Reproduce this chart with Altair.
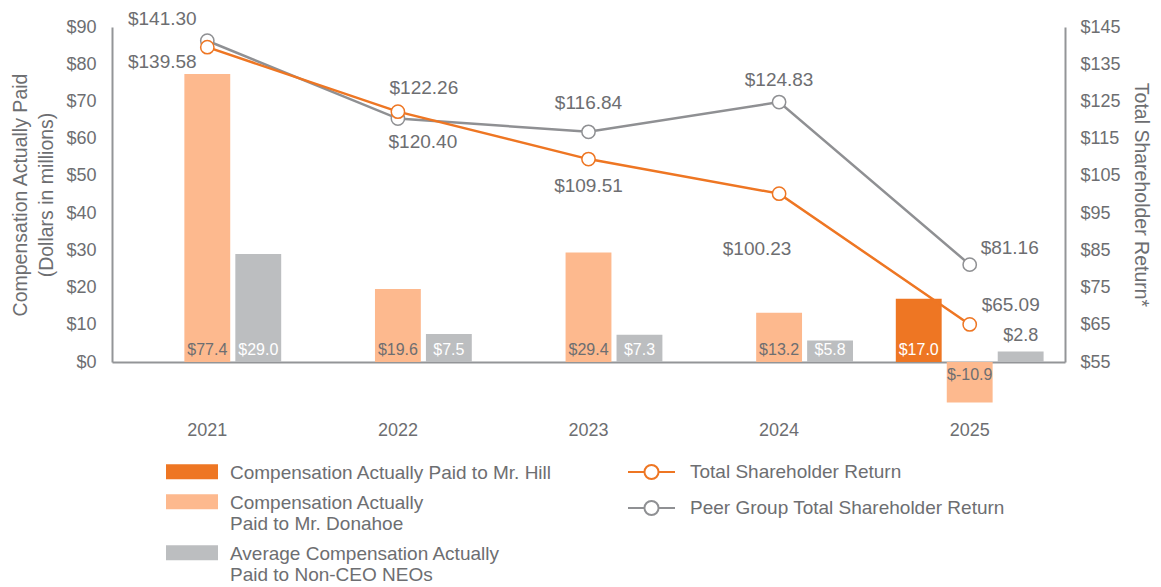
import json
import altair as alt
import pandas as pd

# ---------------- data ----------------
years = ["2021", "2022", "2023", "2024", "2025"]
cap_hill = [None, None, None, None, 17.0]
cap_donahoe = [77.4, 19.6, 29.4, 13.2, -10.9]
cap_neo = [29.0, 7.5, 7.3, 5.8, 2.8]
tsr = [139.58, 122.26, 109.51, 100.23, 65.09]
peer_tsr = [141.30, 120.40, 116.84, 124.83, 81.16]

left_ticks = [0, 10, 20, 30, 40, 50, 60, 70, 80, 90]
right_ticks = [55, 65, 75, 85, 95, 105, 115, 125, 135, 145]

bar_keys = ["Hill", "Donahoe", "NEO"]
bar_legend_text = [
    ["Compensation Actually Paid to Mr. Hill"],
    ["Compensation Actually", "Paid to Mr. Donahoe"],
    ["Average Compensation Actually", "Paid to Non-CEO NEOs"],
]
line_keys = ["TSR", "Peer"]
line_legend_text = ["Total Shareholder Return", "Peer Group Total Shareholder Return"]

# pixel nudges of the value labels relative to their points
tsr_label_offsets = [(-45, 15), (26, -24), (0, 27), (-22, 55), (41, -19)]
peer_label_offsets = [(-45, -22), (25, 23), (0, -29), (0, -22), (40, -17)]

# ---------------- styles ----------------
FONT = "Liberation Sans"
GREY_TEXT = "#6d6e71"
AXIS_GREY = "#939598"
C_HILL = "#ee7623"
C_DONAHOE = "#fdb98e"
C_NEO = "#bcbec0"
C_TSR = "#ee7623"
C_PEER = "#8f9093"

bar_rows = []
for key, vals in zip(bar_keys, [cap_hill, cap_donahoe, cap_neo]):
    for yr, v in zip(years, vals):
        if v is not None:
            bar_rows.append({"year": yr, "series": key, "value": v})
bars_df = pd.DataFrame(bar_rows)

line_rows = []
for key, vals in [("Peer", peer_tsr), ("TSR", tsr)]:
    for yr, v in zip(years, vals):
        line_rows.append({"year": yr, "series": key, "value": v})
lines_df = pd.DataFrame(line_rows)


def expr_map(keys, texts):
    expr = json.dumps(texts[-1])
    for k, t in reversed(list(zip(keys[:-1], texts[:-1]))):
        expr = f"datum.label == {json.dumps(k)} ? {json.dumps(t)} : ({expr})"
    return expr


x_scale = alt.Scale(domain=years, paddingInner=0, paddingOuter=0)
xoff_scale = alt.Scale(domain=bar_keys, paddingInner=0.1, paddingOuter=0.42)
yl_scale = alt.Scale(domain=[0, 90], nice=False, zero=False)
yr_scale = alt.Scale(domain=[55, 145], nice=False, zero=False)

x_axis = alt.Axis(
    title=None, labelAngle=0, ticks=False, domain=True, domainColor=AXIS_GREY,
    domainWidth=2, labelPadding=59, labelFontSize=18, labelColor=GREY_TEXT, grid=False,
)
yl_axis = alt.Axis(
    values=left_ticks, labelExpr="'$' + datum.value", ticks=False, grid=False,
    domainColor=AXIS_GREY, domainWidth=2, labelPadding=16, labelFontSize=18,
    labelColor=GREY_TEXT, labelFlush=False,
    title=["Compensation Actually Paid", "(Dollars in millions)"],
    titleFontSize=19.5, titleFontWeight="normal", titleColor=GREY_TEXT,
    titlePadding=9, titleLineHeight=26,
)
yr_axis = alt.Axis(
    orient="right", values=right_ticks, labelExpr="'$' + datum.value", ticks=False,
    grid=False, domainColor=AXIS_GREY, domainWidth=2, labelPadding=15,
    labelFontSize=18, labelColor=GREY_TEXT, labelFlush=False,
    title="Total Shareholder Return*", titleAngle=90, titleFontSize=19.5,
    titleFontWeight="normal", titleColor=GREY_TEXT, titlePadding=10,
)

bar_legend = alt.Legend(
    orient="none", legendX=54, legendY=427, title=None, direction="vertical",
    symbolType="M-1,0.02H4.2V1.52H-1Z", symbolSize=400, symbolStrokeWidth=0,
    labelExpr=expr_map(bar_keys, bar_legend_text), labelFontSize=19,
    labelColor=GREY_TEXT, labelBaseline="top", labelOffset=44, labelLimit=600,
    rowPadding=1, padding=0,
)
line_legend = alt.Legend(
    orient="none", legendX=515, legendY=420.5, title=None, direction="vertical",
    symbolType="M-1,0H-0.3M0.3,0H1M0.3,0A0.3,0.3,0,1,1,-0.3,0A0.3,0.3,0,1,1,0.3,0",
    symbolSize=2209, symbolStrokeWidth=2, symbolFillColor="white",
    labelExpr=expr_map(line_keys, line_legend_text), labelFontSize=19,
    labelColor=GREY_TEXT, labelOffset=14, labelLimit=600, rowPadding=0, padding=0,
)

X_enc = alt.X("year:N", scale=x_scale, axis=x_axis)
XO_enc = alt.XOffset("series:N", scale=xoff_scale)

bars = alt.Chart(bars_df).mark_bar().encode(
    x=X_enc,
    xOffset=XO_enc,
    y=alt.Y("value:Q", scale=yl_scale, axis=yl_axis),
    fill=alt.Fill("series:N", scale=alt.Scale(domain=bar_keys, range=[C_HILL, C_DONAHOE, C_NEO]),
                  legend=bar_legend),
)

lab_base = alt.Chart(bars_df).transform_calculate(
    label="'$' + (datum.value < 0 ? '-' : '') + format(abs(datum.value), '.1f')", base="0",
    tcolor=f"datum.series == 'Donahoe' ? '{GREY_TEXT}' : '#ffffff'",
)
inner_lab = lab_base.transform_filter("datum.value >= 5").mark_text(
    fontSize=16, dy=-12, baseline="middle"
).encode(
    x=X_enc, xOffset=XO_enc, y=alt.Y("base:Q", scale=yl_scale, axis=yl_axis),
    text="label:N", color=alt.Color("tcolor:N", scale=None),
)
neg_lab = lab_base.transform_filter("datum.value < 0").mark_text(
    fontSize=16, dy=13, baseline="middle", color=GREY_TEXT
).encode(
    x=X_enc, xOffset=XO_enc, y=alt.Y("base:Q", scale=yl_scale, axis=yl_axis), text="label:N",
)
small_lab = lab_base.transform_filter("datum.value > 0 && datum.value < 5").mark_text(
    fontSize=18, dy=-16, baseline="middle", color=GREY_TEXT
).encode(
    x=X_enc, xOffset=XO_enc, y=alt.Y("value:Q", scale=yl_scale, axis=yl_axis), text="label:N",
)

left = alt.layer(bars, inner_lab, neg_lab, small_lab)

lines = alt.Chart(lines_df).mark_line(
    strokeWidth=2.5,
    point=alt.OverlayMarkDef(filled=True, fill="white", size=177, strokeWidth=1.5),
).encode(
    x=X_enc,
    y=alt.Y("value:Q", scale=yr_scale, axis=yr_axis),
    stroke=alt.Stroke("series:N", scale=alt.Scale(domain=line_keys, range=[C_TSR, C_PEER]),
                      legend=line_legend),
)

line_labels = []
for key, offs in [("TSR", tsr_label_offsets), ("Peer", peer_label_offsets)]:
    for yr, (dx, dy) in zip(years, offs):
        line_labels.append(
            alt.Chart(lines_df)
            .transform_filter(f"datum.series == '{key}' && datum.year == '{yr}'")
            .transform_calculate(label="'$' + format(datum.value, '.2f')")
            .mark_text(fontSize=19, dx=dx, dy=dy, baseline="middle", color=GREY_TEXT)
            .encode(x=X_enc, y=alt.Y("value:Q", scale=yr_scale, axis=yr_axis), text="label:N")
        )

right = alt.layer(lines, *line_labels)

chart = (
    alt.layer(left, right)
    .resolve_scale(y="independent")
    .properties(
        width=953, height=335,
        autosize=alt.AutoSizeParams(type="none"),
        padding={"left": 104, "top": 19, "right": 88, "bottom": 225},
    )
    .configure(font=FONT)
    .configure_view(stroke=None)
    .configure_axis(labelFont=FONT, titleFont=FONT)
    .configure_legend(labelFont=FONT)
    .configure_text(font=FONT)
)

chart.save("out.html", embed_options={"renderer": "svg", "actions": False})
